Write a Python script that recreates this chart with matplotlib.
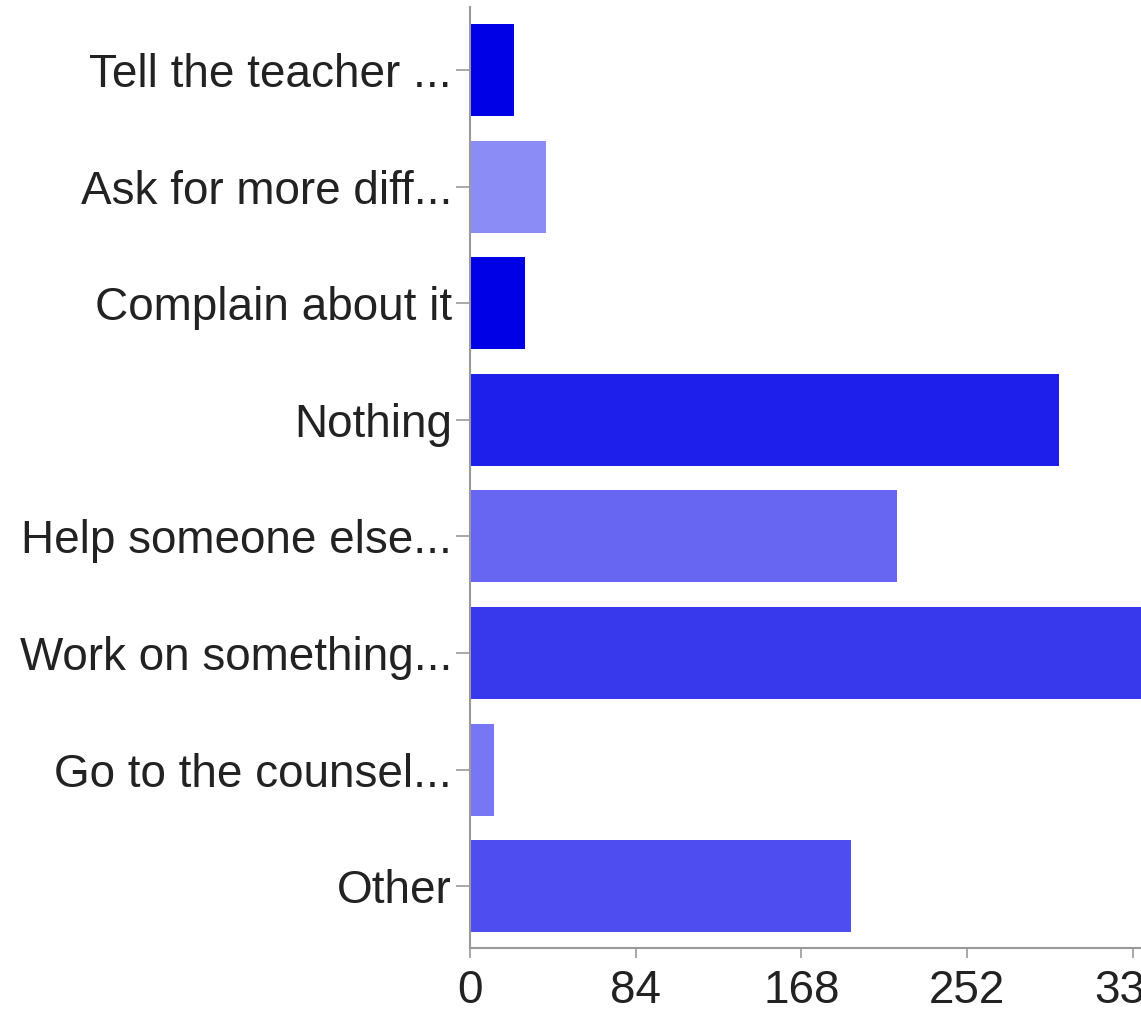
import matplotlib.pyplot as plt

plt.rcParams['font.family'] = ['Liberation Sans', 'DejaVu Sans']

labels = ["Tell the teacher ...", "Ask for more diff...", "Complain about it", "Nothing",
          "Help someone else...", "Work on something...", "Go to the counsel...", "Other"]
counts = [22.3, 38.5, 28, 298.5, 216.5, 350, 12.2, 193]
colors = ["#0000e6", "#8c8cf6", "#0000e6", "#1f1fec", "#6666f2", "#3838ec", "#7777f6", "#4e4ef0"]
ticks = [0, 84, 168, 252, 336]

fig = plt.figure(figsize=(11.41, 10.13), dpi=100)
ax = fig.add_axes([470 / 1141, 65 / 1013, 671 / 1141, 941 / 1013])

y = range(len(labels))
ax.barh(y, counts, height=0.79, color=colors)
ax.set_yticks(list(y))
ax.set_yticklabels(labels)
ax.set_ylim(7.53, -0.54)
ax.set_xlim(0, 340.3)
ax.set_xticks(ticks)

for s in ['top', 'right']:
    ax.spines[s].set_visible(False)
for s in ['left', 'bottom']:
    ax.spines[s].set_color('#999999')
    ax.spines[s].set_linewidth(1.5)

ax.tick_params(axis='y', length=10, width=1.2, color='#999999', labelsize=33,
               labelcolor='#222222', pad=3)
ax.tick_params(axis='x', length=7, width=1.2, color='#999999', labelsize=33,
               labelcolor='#222222', pad=8)

fig.savefig('out.png', dpi=100)
